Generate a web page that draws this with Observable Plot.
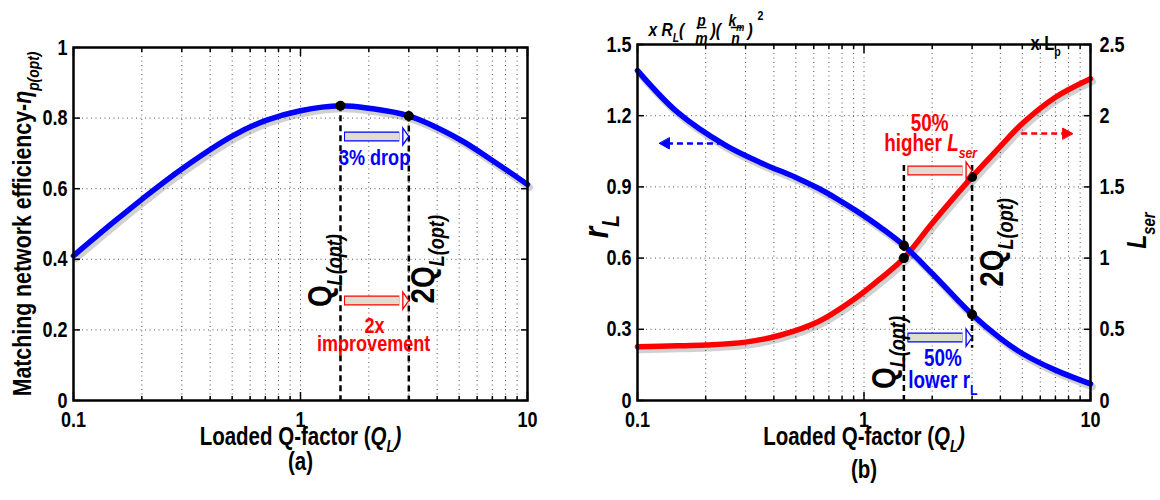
<!DOCTYPE html>
<html><head><meta charset="utf-8">
<script src="https://cdn.jsdelivr.net/npm/d3@7"></script>
<script src="https://cdn.jsdelivr.net/npm/@observablehq/plot@0.6"></script>
<style>
body{margin:0;background:#fff;}
#wrap{position:relative;width:1160px;height:500px;overflow:hidden;background:#fff}
#wrap svg{position:absolute;top:0;}
</style></head><body><div id="wrap"></div>
<script>
// ---------- data ----------
const qA   = [0.1, 0.15, 0.2, 0.3, 0.5, 0.7, 1, 1.5, 2, 3, 5, 7, 10];
const etaA = [0.41, 0.505, 0.57, 0.656, 0.749, 0.793, 0.821, 0.835, 0.828, 0.806, 0.74, 0.68, 0.612];
const qR   = [0.1, 0.15, 0.245, 0.358, 0.5, 0.632, 0.75, 0.922, 1.2, 1.5, 2, 3, 4, 5, 7, 10];
const rL   = [1.39, 1.215, 1.075, 0.998, 0.94, 0.893, 0.853, 0.80, 0.725, 0.653, 0.535, 0.362, 0.262, 0.198, 0.128, 0.07];
const qS   = [0.1, 0.15, 0.2, 0.3, 0.43, 0.63, 0.92, 1.2, 1.5, 2, 3, 4, 5, 7, 10];
const Lser = [0.378, 0.384, 0.39, 0.41, 0.46, 0.555, 0.72, 0.865, 1.0, 1.245, 1.57, 1.785, 1.945, 2.13, 2.26];
const qMarks = [1.5, 3];
const xMajor = [0.1, 1, 10];
const xMinor = [0.2, 0.3, 0.4, 0.5, 0.6, 0.7, 0.8, 0.9, 2, 3, 4, 5, 6, 7, 8, 9];
const xGrid  = [0.2, 0.3, 0.4, 0.5, 0.6, 0.7, 0.8, 0.9, 1, 2, 3, 4, 5, 6, 7, 8, 9];
const yTicksA = [0, 0.2, 0.4, 0.6, 0.8, 1];
const yTicksL = [0, 0.3, 0.6, 0.9, 1.2, 1.5];
const yTicksR = [0, 0.5, 1, 1.5, 2, 2.5];

// ---------- helpers ----------
const FONT = "'Liberation Sans',Arial,Helvetica,sans-serif";
const CONDENSE = 0.82;
const BLUE = "#0000ff", RED = "#ff0000";
const ratio = yTicksL[yTicksL.length-1] / yTicksR[yTicksR.length-1];
const effData = qA.map((q,i)=>({q, v: etaA[i]}));
const rLData = qR.map((q,i)=>({q, v: rL[i]}));
const LserData = qS.map((q,i)=>({q, v: Lser[i] * ratio}));
const at = (xs, ys, q) => ys[xs.indexOf(q)];

const headShape = (w) => ({draw(ctx, l){ ctx.moveTo(0,-l); ctx.lineTo(-w,0); ctx.lineTo(w,0); ctx.closePath(); }});

function fatArrow(x1, x2, y, color){
  const d = [{x1, x2, y}];
  return [
    Plot.ruleY(d, {x1:"x1", x2:"x2", y:"y", stroke: color, strokeWidth: 10, insetLeft: 4, insetRight: 9}),
    Plot.ruleY(d, {x1:"x1", x2:"x2", y:"y", stroke: "#dcdfcd", strokeWidth: 7.5, insetLeft: 5, insetRight: 9}),
    Plot.vector(d, {x:"x2", y:"y", rotate: 90, length: 6, anchor: "end", shape: headShape(8.5), fill: "#f4f5ee", stroke: color, strokeWidth: 1.3, strokeLinejoin:"miter"})
  ];
}
function dashArrow(x1, x2, y, color, dir){
  const d = [{x1, x2, y}];
  return [
    Plot.ruleY(d, {x1:"x1", x2:"x2", y:"y", stroke: color, strokeWidth: 2.5, strokeDasharray: "6,4", insetLeft: dir<0?8:0, insetRight: dir>0?8:0}),
    Plot.vector(d, {x: dir>0?"x2":"x1", y:"y", rotate: dir>0?90:-90, length: 10, anchor:"end", shape: headShape(5.5), fill: color, stroke: color, strokeWidth: 1})
  ];
}
const gridStyle = {stroke:"#555", strokeOpacity: 1, strokeWidth: 1, strokeDasharray: "1,3.5"};
function frameAxes(yTicks, rightLabels){
  const m = [
    Plot.axisX({anchor:"bottom", ticks: xMajor, tickSize: 0, tickPadding: 11, tickFormat: d=>String(d), fontSize: 22, label: null}),
    Plot.axisX({anchor:"bottom", ticks: xMinor, tickSize: -4, tickFormat: ()=>"", label: null, strokeWidth: 1.5}),
    Plot.axisX({anchor:"bottom", ticks: xMajor, tickSize: -8, tickFormat: ()=>"", label: null, strokeWidth: 1.5}),
    Plot.axisX({anchor:"top", ticks: xMinor, tickSize: -4, tickFormat: ()=>"", label: null, strokeWidth: 1.5}),
    Plot.axisX({anchor:"top", ticks: xMajor, tickSize: -8, tickFormat: ()=>"", label: null, strokeWidth: 1.5}),
    Plot.axisY({anchor:"left", ticks: yTicks, tickSize: 0, tickPadding: 6, tickFormat: d=>String(d), fontSize: 22, label: null}),
    Plot.axisY({anchor:"left", ticks: yTicks, tickSize: -7, tickFormat: ()=>"", label: null, strokeWidth: 1.5}),
    Plot.axisY({anchor:"right", ticks: yTicks, tickSize: -7, tickFormat: ()=>"", label: null, strokeWidth: 1.5}),
    Plot.frame({stroke:"black", strokeWidth: 2.5})
  ];
  if (rightLabels) m.push(Plot.axisY({anchor:"right", ticks: yTicks, tickSize: 0, tickPadding: 9, tickFormat: d=>String(+(d/ratio).toFixed(2)), fontSize: 22, label: null}));
  return m;
}
// rich text: {i:..} italic, {s:..} subscript, {si:..} italic subscript
function rich(svg){
  svg.querySelectorAll("text").forEach(t => {
    const s = t.textContent;
    if (!s.includes("{")) return;
    const fs = parseFloat(getComputedStyle(t).fontSize);
    t.textContent = "";
    const re = /\{(\w+):([^}]*)\}|([^{]+)/g;
    let m, shift = 0;
    while ((m = re.exec(s))) {
      const sp = document.createElementNS("http://www.w3.org/2000/svg","tspan");
      const st = m[1] || "", txt = m[1] ? m[2] : m[3];
      let target = 0, size = fs;
      if (st.includes("s")) { target = 0.3*fs; size = 0.65*fs; }
      if (st.includes("i")) sp.setAttribute("font-style","italic");
      if (size !== fs) sp.setAttribute("font-size", size);
      if (target !== shift) sp.setAttribute("dy", target - shift);
      shift = target;
      sp.textContent = txt;
      t.appendChild(sp);
    }
  });
}
// emulate a narrow (Helvetica-Narrow-like) face: squeeze along the text direction
function condense(svg){
  svg.querySelectorAll("text").forEach(t => {
    const tr = t.getAttribute("transform") || "";
    t.setAttribute("transform", (tr + ` scale(${CONDENSE},1)`).trim());
  });
}
const T = (arr, opts) => Plot.text(arr, {text: d=>d.t, x: d=>d.x, y: d=>d.y, fontWeight:"bold", ...opts});
const L1 = (s, opts) => Plot.text([s], {text: d=>d, fontWeight:"bold", textAnchor:"middle", ...opts});
const baseStyle = {fontFamily: FONT, fontWeight: "bold", background: "white", overflow: "visible", color: "black"};
const fml = {frameAnchor:"top-left", fontStyle:"italic"};

// ---------- panel (a) ----------
const svgA = Plot.plot({
  width: 570, height: 500, marginLeft: 73, marginRight: 43, marginTop: 47, marginBottom: 100,
  x: {type: "log", domain: [0.1, 10], label: null},
  y: {domain: [0, 1], label: null},
  style: baseStyle,
  marks: [
    Plot.gridX(xGrid, gridStyle),
    Plot.gridY([0.2,0.4,0.6,0.8], gridStyle),
    Plot.ruleX(qMarks, {x: d=>d, y1: d=>at(qA, etaA, d), y2: 0, strokeWidth: 2.5, strokeDasharray: "6,4"}),
    Plot.line(effData, {x:"q", y:"v", curve:"catmull-rom", stroke:"#000", strokeOpacity: 0.18, strokeWidth: 7, dx: 2, dy: 3}),
    Plot.line(effData, {x:"q", y:"v", curve:"catmull-rom", stroke: BLUE, strokeWidth: 5.5}),
    Plot.dot(qMarks, {x: d=>d, y: d=>at(qA, etaA, d), r: 5, fill: "black"}),
    ...fatArrow(1.5, 3, 0.748, BLUE),
    ...fatArrow(1.5, 3, 0.283, RED),
    T([{t:"3% drop", x:2.12, y:0.688}], {fill: BLUE, fontSize: 22}),
    T([{t:"2x", x:2.12, y:0.212}, {t:"improvement", x:2.1, y:0.161}], {fill: RED, fontSize: 22}),
    T([{t:"Q{si:L(opt)}", x:1.5, y:0.368}], {dx:-20, rotate:-90, fontSize: 34}),
    T([{t:"2Q{si:L(opt)}", x:3, y:0.40}], {dx:14, rotate:-90, fontSize: 34}),
    L1("Matching network efficiency-{i:η}{si:p(opt)}", {frameAnchor:"left", dx:-51, rotate:-90, fontSize: 26}),
    L1("Loaded Q-factor ({i:Q}{si:L}{i:)}", {frameAnchor:"bottom", dy: 44, fontSize: 25}),
    L1("(a)", {frameAnchor:"bottom", dy: 69, fontSize: 25}),
    ...frameAxes(yTicksA, false)
  ]
});
svgA.style.left = "0px";

// ---------- panel (b) ----------
const svgB = Plot.plot({
  width: 590, height: 500, marginLeft: 67, marginRight: 70, marginTop: 44, marginBottom: 100,
  x: {type: "log", domain: [0.1, 10], label: null},
  y: {domain: [0, 1.5], label: null},
  style: baseStyle,
  marks: [
    Plot.gridX(xGrid, gridStyle),
    Plot.gridY([0.3,0.6,0.9,1.2], gridStyle),
    Plot.ruleX([{q:1.5, top:0.99, bot:0}, {q:3, top:0.99, bot:0.22}], {x:"q", y1:"top", y2:"bot", strokeWidth: 2.5, strokeDasharray: "6,4"}),
    Plot.line(LserData, {x:"q", y:"v", curve:"catmull-rom", stroke:"#000", strokeOpacity: 0.18, strokeWidth: 7, dx: 2, dy: 3}),
    Plot.line(rLData, {x:"q", y:"v", curve:"catmull-rom", stroke:"#000", strokeOpacity: 0.18, strokeWidth: 7, dx: 2, dy: 3}),
    Plot.line(LserData, {x:"q", y:"v", curve:"catmull-rom", stroke: RED, strokeWidth: 5.5}),
    Plot.line(rLData, {x:"q", y:"v", curve:"catmull-rom", stroke: BLUE, strokeWidth: 5.5}),
    Plot.dot(qMarks, {x: d=>d, y: d=>at(qR, rL, d), r: 5, fill: "black"}),
    Plot.dot(qMarks, {x: d=>d, y: d=>at(qS, Lser, d) * ratio, r: 5, fill: "black"}),
    ...fatArrow(1.5, 3, 0.969, RED),
    ...fatArrow(1.5, 3, 0.265, BLUE),
    ...dashArrow(0.125, 0.232, 1.083, BLUE, -1),
    ...dashArrow(4.97, 8.34, 1.125, RED, 1),
    T([{t:"50%", x:1.95, y:1.167}, {t:"higher {i:L}{si:ser}", x:1.97, y:1.083}], {fill: RED, fontSize: 23}),
    T([{t:"50%", x:2.23, y:0.177}, {t:"lower r{s:L}", x:2.23, y:0.084}], {fill: BLUE, fontSize: 23}),
    T([{t:"Q{si:L(opt)}", x:1.5, y:0.202}], {dx:-20, rotate:-90, fontSize: 34}),
    T([{t:"2Q{si:L(opt)}", x:3, y:0.666}], {dx:20, rotate:-90, fontSize: 34}),
    Plot.text([{t:"{i:r}{si:L}", y:0.733}], {text:"t", y:"y", frameAnchor:"left", textAnchor:"middle", dx:-41, rotate:-90, fontSize: 36, fontWeight:"bold"}),
    Plot.text([{t:"{i:L}{si:ser}", y:0.716}], {text:"t", y:"y", frameAnchor:"right", textAnchor:"middle", dx:47, rotate:-90, fontSize: 28, fontWeight:"bold"}),
    L1("x R{si:L}(", {...fml, dx: 11, dy:-22, textAnchor:"start", fontSize: 19}),
    L1("p", {...fml, dx: 64, dy:-31, fontSize: 17}),
    L1("—", {frameAnchor:"top-left", dx: 64, dy:-22, fontSize: 12}),
    L1("m", {...fml, dx: 64, dy:-13, fontSize: 17}),
    L1(")(", {...fml, dx: 73, dy:-22, textAnchor:"start", fontSize: 19}),
    L1("k{s:m}", {...fml, dx: 99, dy:-31, fontSize: 17}),
    L1("—", {frameAnchor:"top-left", dx: 99, dy:-22, fontSize: 14}),
    L1("n", {...fml, dx: 98, dy:-13, fontSize: 17}),
    L1(")", {...fml, dx: 110, dy:-22, textAnchor:"start", fontSize: 19}),
    L1("2", {frameAnchor:"top-left", dx: 120, dy:-34, textAnchor:"start", fontSize: 13}),
    L1("x L{s:p}", {frameAnchor:"top-right", dx: -60, dy:-9, textAnchor:"start", fontSize: 20}),
    L1("Loaded Q-factor ({i:Q}{si:L}{i:)}", {frameAnchor:"bottom", dy: 44, fontSize: 25}),
    L1("(b)", {frameAnchor:"bottom", dy: 77, fontSize: 25}),
    ...frameAxes(yTicksL, true)
  ]
});
svgB.style.left = "570px";

const wrap = document.getElementById("wrap");
wrap.appendChild(svgA);
wrap.appendChild(svgB);
rich(svgA); rich(svgB);
condense(svgA); condense(svgB);
</script></body></html>
